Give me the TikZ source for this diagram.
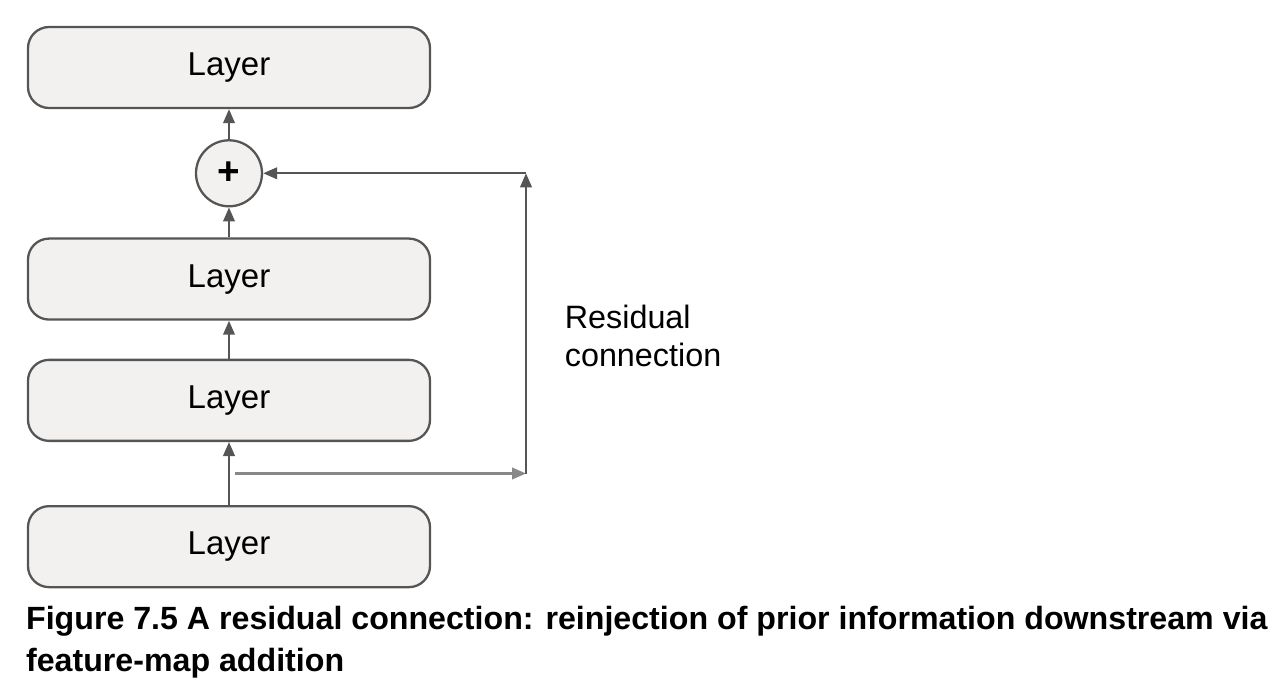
\documentclass[tikz,border=0pt]{standalone}
\usepackage{fontspec}
\setmainfont{Liberation Sans}
\usetikzlibrary{arrows.meta,calc,positioning}

\definecolor{boxfill}{HTML}{F2F1EF}
\definecolor{edgegray}{HTML}{555555}

\begin{document}
\begin{tikzpicture}[>={Triangle[length=0.14cm,width=0.115cm]}, line width=0.65pt, draw=edgegray]

    \tikzstyle{layerbox} = [rectangle, rounded corners=6pt, minimum width=4.02cm, minimum height=0.81cm, text centered, draw=edgegray, fill=boxfill, font=\fontsize{9.4pt}{11pt}\selectfont]
    \tikzstyle{addnode}  = [circle, minimum size=0.66cm, inner sep=0pt, draw=edgegray, fill=boxfill, font=\fontsize{11pt}{12pt}\selectfont]
    \tikzstyle{conn}     = [draw=edgegray, ->]

    \useasboundingbox (0,0) rectangle (12.88,6.92);

    \node (layer4) [layerbox]                          at (2.29,6.245) {Layer};
    \node (add)    [addnode, below=0.30cm of layer4]                   {\textbf{+}};
    \node (layer3) [layerbox, below=0.30cm of add]                     {Layer};
    \node (layer2) [layerbox, below=0.38cm of layer3]                  {Layer};
    \node (layer1) [layerbox, below=0.63cm of layer2]                  {Layer};

    \coordinate (split)  at ($(layer1.north)!0.5!(layer2.south) + (0.06,0)$);
    \coordinate (corner) at ($(split) + (2.91,0)$);
    \coordinate (top)    at (corner |- add);

    \path[conn]  (layer1)   edge   (layer2);
    \path[conn]  (layer2)   edge   (layer3);
    \path[conn]  (layer3)   edge   (add);
    \path[conn]  (add)      edge   (layer4);

    \draw[->, draw=edgegray!70] (split) -- (corner);
    \draw[conn]  (corner) -- (top);
    \draw[conn]  (top) -- (add);

    \node (label) [anchor=north west, align=left, font=\fontsize{9.2pt}{10.8pt}\selectfont] at (5.52,4.0) {Residual\\connection};

    \node (caption) [anchor=north west, align=left, inner sep=0pt, font=\bfseries\fontsize{9.15pt}{12pt}\selectfont] at (0.25,0.87)
        {Figure 7.5 A residual connection: reinjection of prior information downstream via\\feature-map addition};

\end{tikzpicture}
\end{document}
